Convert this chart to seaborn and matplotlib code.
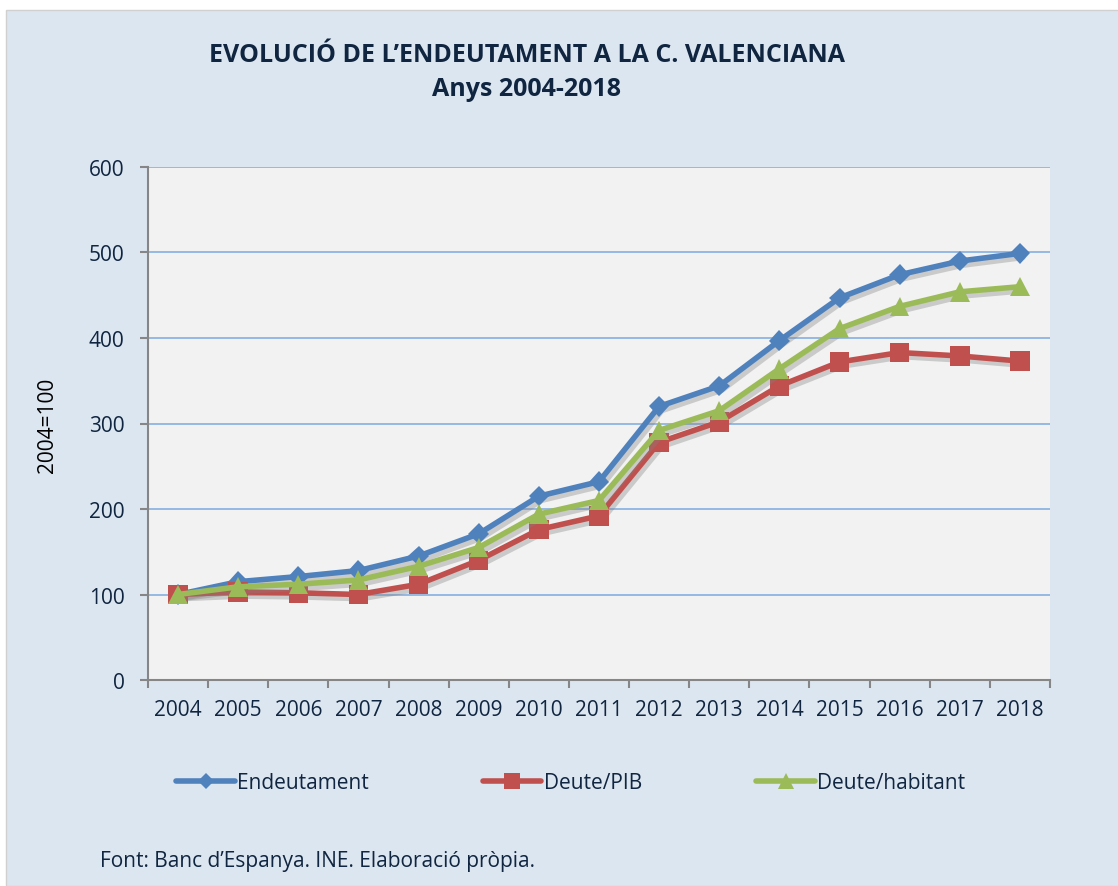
import matplotlib
matplotlib.use("Agg")
import matplotlib.pyplot as plt
import matplotlib.patheffects as pe
from matplotlib.patches import Rectangle
import pandas as pd
import seaborn as sns

years = [str(y) for y in range(2004, 2019)]
endeutament = [100, 115, 121, 128, 145, 171, 215, 232, 320, 344, 397, 447, 474, 490, 499]
deute_pib = [100, 103, 102, 100, 112, 140, 176, 192, 278, 302, 344, 372, 383, 379, 373]
deute_hab = [100, 109, 112, 117, 133, 155, 194, 210, 292, 315, 364, 411, 437, 454, 460]

series_names = ["Endeutament", "Deute/PIB", "Deute/habitant"]
colors = ["#4F81BD", "#C0504D", "#9BBB59"]
markers = ["D", "s", "^"]
marker_sizes = [10.5, 14, 14]

df = pd.concat([
    pd.DataFrame({"x": range(len(years)), "value": vals, "serie": name})
    for name, vals in zip(series_names, [endeutament, deute_pib, deute_hab])
])

sns.set_theme(style="white")
plt.rcParams["font.family"] = ["Open Sans", "DejaVu Sans"]

navy = "#10253F"

fig = plt.figure(figsize=(11.18, 8.87), dpi=100, facecolor="white")
fig.patches.append(Rectangle((6 / 1118, 0), 1, 1 - 11 / 887, transform=fig.transFigure,
                             facecolor="#DCE6F1", edgecolor="#D0D0D0", linewidth=1, zorder=-5))

ax = fig.add_axes([148 / 1118, 1 - 681 / 887, (1050 - 148) / 1118, (681 - 168) / 887])
ax.set_zorder(2)
ax.set_facecolor("#F2F2F2")

sns.lineplot(data=df, x="x", y="value", hue="serie", style="serie",
             palette=dict(zip(series_names, colors)),
             markers=dict(zip(series_names, markers)), dashes=False,
             linewidth=4, ax=ax, legend=False)

# soft drop shadow like the original spreadsheet chart
for line, ms in zip(ax.get_lines(), marker_sizes):
    line.set_markersize(ms)
    line.set_markeredgewidth(0)
    line.set_path_effects([pe.SimpleLineShadow(offset=(2, -3), shadow_color="#808080", alpha=0.35),
                           pe.Normal()])

ax.set_ylim(0, 600)
ax.set_xlim(-0.5, len(years) - 0.5)
ax.set_yticks(range(0, 601, 100))
ax.yaxis.grid(True, color="#8EB4E3", linewidth=1.3)
ax.set_axisbelow(True)
ax.tick_params(axis="y", labelsize=15, length=6, width=1.5, color="#868686", direction="out",
               left=True, pad=11, labelcolor=navy)

ax.set_xticks([i - 0.5 for i in range(len(years) + 1)])
ax.set_xticklabels([])
ax.set_xticks(range(len(years)), minor=True)
ax.set_xticklabels(years, minor=True)
ax.tick_params(axis="x", which="major", length=6, width=1.5, color="#868686", direction="out", bottom=True)
ax.tick_params(axis="x", which="minor", length=0, labelsize=15, pad=14, labelcolor=navy)

for s in ["top", "right"]:
    ax.spines[s].set_visible(False)
for s in ["left", "bottom"]:
    ax.spines[s].set_color("#868686")
    ax.spines[s].set_linewidth(1.5)

ax.set_xlabel("")
ax.set_ylabel("")
fig.text(48 / 1118, 1 - 425 / 887, "2004=100", rotation=90, ha="center", va="center",
         fontsize=15, color="black")

fig.text(527 / 1118, 1 - 55 / 887, "EVOLUCIÓ DE L’ENDEUTAMENT A LA C. VALENCIANA",
         ha="center", va="center", fontsize=18, fontweight="bold", color=navy)
fig.text(527 / 1118, 1 - 90 / 887, "Anys 2004-2018",
         ha="center", va="center", fontsize=18, fontweight="bold", color=navy)

handles = [plt.Line2D([], [], color=c, marker=m, markersize=ms * 0.8, markeredgewidth=0, linewidth=4)
           for c, m, ms in zip(colors, markers, marker_sizes)]
fig.legend(handles, series_names, loc="center left", bbox_to_anchor=(168 / 1118, 1 - 784 / 887),
           ncol=3, frameon=False, fontsize=15, handlelength=2.8, handletextpad=0.1,
           columnspacing=5.5, labelcolor=navy, borderaxespad=0)

fig.text(100 / 1118, 1 - 862 / 887, "Font: Banc d’Espanya. INE. Elaboració pròpia.",
         ha="left", va="center", fontsize=15, color=navy)

fig.savefig("out.png", dpi=100, facecolor=fig.get_facecolor())
